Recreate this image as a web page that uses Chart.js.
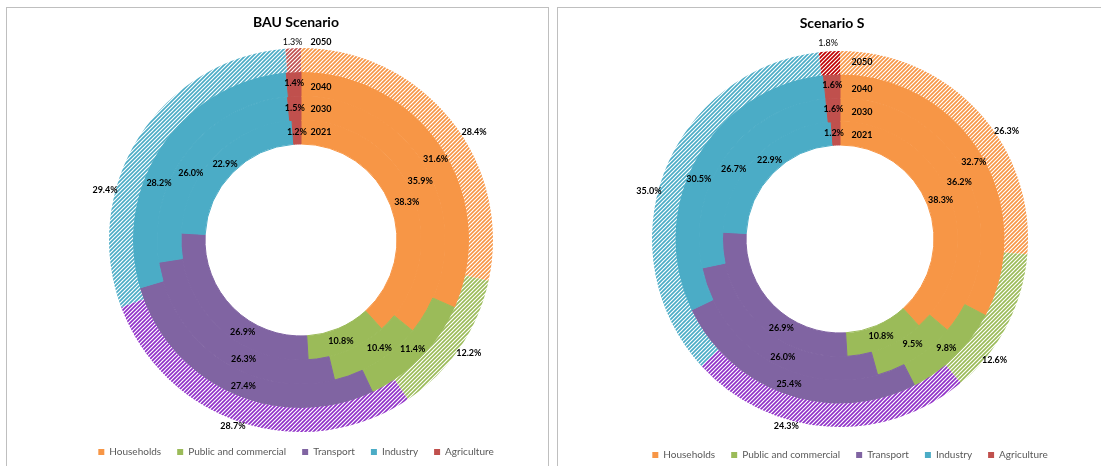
<!DOCTYPE html>
<html>
<head>
<meta charset="utf-8">
<script src="https://cdn.jsdelivr.net/npm/chart.js@4/dist/chart.umd.min.js"></script>
<style>
html,body{margin:0;padding:0;background:#fff;overflow:hidden;width:1101px;height:466px;}
.panel{position:absolute;border:1px solid #BFBFBF;box-sizing:border-box;}
#p1{left:6px;top:7px;width:543px;height:480px;}
#p2{left:557px;top:7px;width:600px;height:480px;}
canvas{position:absolute;}
#c1{left:7px;top:8px;}
#c2{left:600px;top:8px;}
</style>
</head>
<body>
<div class="panel" id="p1"></div>
<div class="panel" id="p2"></div>
<canvas id="c1" width="578" height="459"></canvas>
<canvas id="c2" width="500" height="462"></canvas>
<script>
// ---------- data ----------
const categories = ['Households', 'Public and commercial', 'Transport', 'Industry', 'Agriculture'];
const years = ['2021', '2030', '2040', '2050'];
const bau2021 = [38.3, 10.8, 26.9, 22.9, 1.2];
const bau2030 = [35.9, 10.4, 26.3, 26.0, 1.5];
const bau2040 = [31.6, 11.4, 27.4, 28.2, 1.4];
const bau2050 = [28.4, 12.2, 28.7, 29.4, 1.3];
const s2021 = [38.3, 10.8, 26.9, 22.9, 1.2];
const s2030 = [36.2, 9.5, 26.0, 26.7, 1.6];
const s2040 = [32.7, 9.8, 25.4, 30.5, 1.6];
const s2050 = [26.3, 12.6, 24.3, 35.0, 1.8];

// ---------- styles ----------
const solidColors = ['#F79646', '#9BBB59', '#8064A2', '#4BACC6', '#C0504D'];
const hatchBAU = ['#F79646', '#9BBB59', '#9030C8', '#4BACC6', '#C0504D'];
const hatchS = ['#F79646', '#9BBB59', '#9030C8', '#4BACC6', '#C00000'];

function hatch(color) {
  const s = 4;
  const c = document.createElement('canvas');
  c.width = s; c.height = s;
  const g = c.getContext('2d');
  g.fillStyle = color; g.fillRect(0, 0, s, s);
  g.strokeStyle = '#ffffff'; g.lineWidth = 1.2;
  g.beginPath();
  g.moveTo(-1, s + 1); g.lineTo(s + 1, -1);
  g.moveTo(-1, 1); g.lineTo(1, -1);
  g.moveTo(s - 1, s + 1); g.lineTo(s + 1, s - 1);
  g.stroke();
  return g.createPattern(c, 'repeat');
}

// label nudges (dataset order: 2050, 2040, 2030, 2021)
const nudgeBAU = [
  [[33, 5], [19, 12], [-13, 15], [-44, 47], [-1, -18]],
  [[4, 4], [0, 0], [6, 4], [-13, 31], [0, -1]],
  [[0, -2], [8, -4], [16, 9], [-6, 14], [0, 0]],
  [[5, 1], [-2, 2], [18, 16], [1, 0], [0, 0]]
];
const nudgeS = [
  [[37, 12], [-2, 40], [-42, 11], [-26, 14], [-2, -20]],
  [[3, 2], [-1, 0], [-2, 0], [-8, 15], [0, -1]],
  [[2, -3], [3, -4], [10, 8], [-2, 6], [0, -1]],
  [[2, -1], [0, 0], [16, 14], [5, -5], [-2, 0]]
];

const placePlugin = {
  id: 'place',
  afterLayout(chart, args, o) {
    const a = chart.chartArea;
    a.left = o.cx - o.r; a.right = o.cx + o.r;
    a.top = o.cy - o.r; a.bottom = o.cy + o.r;
    a.width = 2 * o.r; a.height = 2 * o.r;
    if (chart.titleBlock) {
      chart.titleBlock.left += o.titleDx;
      chart.titleBlock.right += o.titleDx;
    }
  }
};

const ringLabels = {
  id: 'ringLabels',
  afterDatasetsDraw(chart, args, o) {
    const ctx = chart.ctx;
    ctx.save();
    ctx.textAlign = 'center';
    ctx.textBaseline = 'middle';
    ctx.fillStyle = o.color;
    chart.data.datasets.forEach((ds, di) => {
      const meta = chart.getDatasetMeta(di);
      meta.data.forEach((arc, i) => {
        const p = arc.getProps(['x', 'y', 'startAngle', 'endAngle', 'innerRadius', 'outerRadius'], true);
        const a = (p.startAngle + p.endAngle) / 2;
        const r = (p.innerRadius + p.outerRadius) / 2;
        const n = o.nudge[di][i];
        ctx.font = (di === 0 && i === 4) ? o.fontLight : o.font;
        ctx.fillText(ds.data[i].toFixed(1) + '%', p.x + Math.cos(a) * r + n[0], p.y + Math.sin(a) * r + n[1]);
      });
      const p0 = meta.data[0].getProps(['x', 'y', 'innerRadius', 'outerRadius'], true);
      const rm = (p0.innerRadius + p0.outerRadius) / 2;
      ctx.font = o.font;
      ctx.fillText(ds.label, p0.x + o.yearDx, p0.y - rm + o.yearDy[di]);
    });
    ctx.restore();
  }
};

function makeChart(id, title, rings, hatchColors, place, labelOpts) {
  const ringYears = years.slice().reverse();
  const datasets = rings.map((vals, i) => ({
    label: ringYears[i],
    data: vals,
    backgroundColor: i === 0 ? hatchColors.map(hatch) : solidColors,
    borderWidth: i === 0 ? 0 : 1,
    borderColor: solidColors
  }));
  return new Chart(document.getElementById(id), {
    type: 'doughnut',
    data: { labels: categories, datasets },
    plugins: [placePlugin, ringLabels],
    options: {
      responsive: false,
      animation: false,
      radius: place.r,
      cutout: '50%',
      layout: { padding: 0 },
      plugins: {
        place,
        ringLabels: labelOpts,
        tooltip: { enabled: false },
        title: {
          display: true,
          text: title,
          color: '#000',
          font: { family: 'Lato', size: 14, weight: 'bold' },
          padding: { top: place.titleTop, bottom: 0 }
        },
        legend: {
          position: 'bottom',
          labels: {
            boxWidth: 6,
            boxHeight: 6,
            padding: 16,
            color: '#595959',
            font: { family: 'Lato', size: 10 },
            generateLabels: () => categories.map((t, i) => ({
              text: t, fillStyle: solidColors[i], strokeStyle: solidColors[i],
              lineWidth: 0, hidden: false, index: i, fontColor: '#595959'
            }))
          }
        }
      }
    }
  });
}

makeChart('c1', 'BAU Scenario', [bau2050, bau2040, bau2030, bau2021], hatchBAU,
  { cx: 294, cy: 232, r: 192, titleDx: 0, titleTop: 6 },
  { nudge: nudgeBAU, color: '#000', font: 'bold 9px Lato', fontLight: '9px Lato', yearDx: 20, yearDy: [-18, 3, 1, 0] });

makeChart('c2', 'Scenario S', [s2050, s2040, s2030, s2021], hatchS,
  { cx: 240, cy: 231, r: 188, titleDx: -18, titleTop: 7 },
  { nudge: nudgeS, color: '#000', font: 'bold 9px Lato', fontLight: '9px Lato', yearDx: 22, yearDy: [-1, 3, 2, 2] });
</script>
</body>
</html>
